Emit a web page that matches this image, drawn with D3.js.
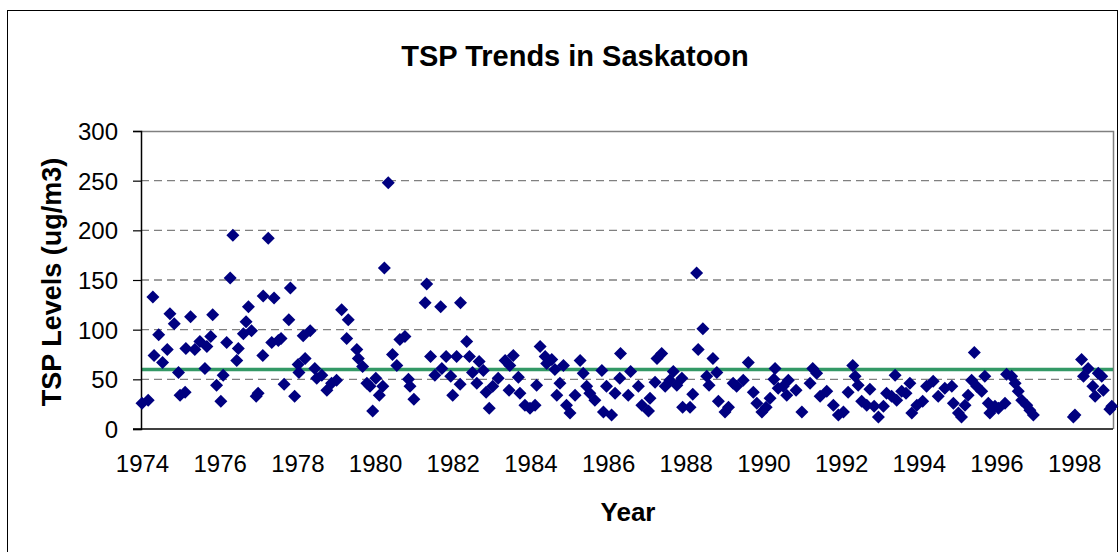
<!DOCTYPE html>
<html><head><meta charset="utf-8">
<script src="https://cdn.jsdelivr.net/npm/d3@7"></script>
<style>body{margin:0;background:#fff}svg{display:block}text{font-family:"Liberation Sans",Arial,sans-serif}</style>
</head><body>
<svg id="chart" width="1119" height="552"></svg>
<script>
const title = "TSP Trends in Saskatoon";
const xTitle = "Year";
const yTitle = "TSP Levels (ug/m3)";
const xTicks = [1974,1976,1978,1980,1982,1984,1986,1988,1990,1992,1994,1996,1998];
const yTicks = [0,50,100,150,200,250,300];
const standard = 60;
// sample dates (decimal years) and TSP values (ug/m3)
const dates = [
1974.00,1974.16,1974.28,1974.31,1974.43,1974.53,1974.65,1974.72,1974.83,1974.94,1974.98,
1975.11,1975.13,1975.25,1975.36,1975.49,1975.62,1975.67,1975.77,1975.82,1975.92,
1976.03,1976.09,1976.18,1976.27,1976.34,1976.44,1976.48,1976.61,1976.68,1976.74,1976.82,1976.94,1976.99,
1977.11,1977.12,1977.25,1977.34,1977.40,1977.51,1977.58,1977.66,1977.78,1977.82,1977.93,
1978.02,1978.04,1978.15,1978.20,1978.33,1978.45,1978.50,1978.63,1978.76,1978.88,
1979.01,1979.14,1979.27,1979.31,1979.53,1979.57,1979.68,1979.79,1979.87,1979.94,
1980.02,1980.11,1980.20,1980.24,1980.34,1980.45,1980.56,1980.64,1980.77,1980.86,1980.90,
1981.00,1981.29,1981.33,1981.43,1981.54,1981.69,1981.72,1981.83,1981.95,
1982.00,1982.10,1982.19,1982.20,1982.36,1982.43,1982.51,1982.62,1982.68,1982.79,1982.86,1982.94,
1983.03,1983.17,1983.35,1983.45,1983.47,1983.56,1983.69,1983.73,1983.86,1983.99,
1984.12,1984.16,1984.25,1984.38,1984.42,1984.55,1984.63,1984.68,1984.76,1984.85,1984.93,
1985.02,1985.15,1985.28,1985.36,1985.45,1985.53,1985.66,1985.84,1985.88,1985.96,
1986.09,1986.18,1986.30,1986.32,1986.52,1986.58,1986.78,1986.87,
1987.04,1987.08,1987.21,1987.26,1987.38,1987.47,1987.59,1987.68,1987.77,1987.90,1987.92,
1988.11,1988.18,1988.28,1988.32,1988.44,1988.54,1988.60,1988.70,1988.80,1988.84,
1989.01,1989.10,1989.22,1989.31,1989.48,1989.61,1989.74,1989.83,1989.96,
1990.07,1990.17,1990.27,1990.30,1990.38,1990.51,1990.60,1990.64,1990.84,1990.99,
1991.20,1991.27,1991.37,1991.46,1991.63,1991.80,1991.93,
1992.06,1992.18,1992.30,1992.36,1992.44,1992.53,1992.66,1992.74,1992.85,1992.96,
1993.09,1993.17,1993.30,1993.39,1993.43,1993.56,1993.67,1993.77,1993.82,1993.95,
1994.10,1994.20,1994.37,1994.50,1994.67,1994.85,1994.89,
1995.02,1995.10,1995.19,1995.27,1995.36,1995.43,1995.49,1995.62,1995.70,1995.79,1995.83,1995.96,
1996.05,1996.22,1996.26,1996.39,1996.48,1996.56,1996.65,1996.78,1996.86,1996.95,
1997.98,1998.02,1998.19,1998.24,1998.36,1998.48,1998.54,1998.62,1998.71,1998.75,1998.92,1998.97
];
const tsp = [
26,29,133,74,95,67,80,116,106,57,34,
37,81,113,80,88,61,83,93,115,44,
28,54,87,152,195,69,81,96,108,123,99,33,36,
74,134,192,87,132,89,91,45,110,142,33,
65,57,94,71,99,61,51,54,39,46,
49,120,91,110,80,71,63,46,43,18,
51,34,43,162,248,75,64,90,93,50,43,
30,127,146,73,54,123,61,73,53,
34,73,45,127,88,73,57,46,68,59,37,21,
43,51,69,39,64,74,52,36,24,21,
24,44,83,73,66,70,60,34,46,64,24,
16,34,69,56,43,36,29,59,17,43,
14,36,51,76,34,58,43,24,
18,31,47,71,76,43,49,58,44,51,22,
22,35,157,80,101,53,44,71,57,28,
17,22,46,43,49,67,37,26,17,
22,31,50,61,41,43,34,49,39,17,
46,61,56,33,38,24,14,
17,37,64,53,44,28,24,40,23,12,
23,36,33,54,29,38,36,46,16,24,
28,43,48,33,41,43,26,
16,12,24,34,49,77,43,38,53,26,16,23,
21,26,55,53,46,38,29,24,19,14,
12,14,70,53,61,43,33,56,53,39,20,23
];

const svg = d3.select("#chart");
const W = 1119, H = 552;
const L = 141, R = 1113, T = 131, B = 429;

// outer frame
svg.append("rect").attr("x",7.5).attr("y",10.5).attr("width",1110).attr("height",560)
  .attr("fill","none").attr("stroke","#000").attr("stroke-width",1);

const x = d3.scaleLinear().domain([1974,1999]).range([142,1113]);
const y = d3.scaleLinear().domain([0,300]).range([B,T]);

// gridlines
svg.append("g").selectAll("line").data(yTicks.filter(v=>v>0 && v<300)).join("line")
  .attr("x1",L).attr("x2",R).attr("y1",d=>y(d)).attr("y2",d=>y(d))
  .attr("stroke","#808080").attr("stroke-width",1.3).attr("stroke-dasharray","8,5");
// plot border top/right
svg.append("path").attr("d",`M${L},${T+0.5}H${R+0.5}V${B}`).attr("fill","none")
  .attr("stroke","#808080").attr("stroke-width",1.5);

// standard line
svg.append("line").attr("x1",L).attr("x2",R).attr("y1",y(standard)).attr("y2",y(standard))
  .attr("stroke","#339966").attr("stroke-width",3.5);

// y axis
const yAxis = d3.axisLeft(y).tickValues(yTicks).tickSize(8).tickPadding(15).tickFormat(d3.format("d"));
const gy = svg.append("g").attr("transform",`translate(${L},0)`).call(yAxis);
gy.select(".domain").attr("stroke","#000").attr("stroke-width",1.5);
gy.selectAll(".tick line").attr("stroke","#000").attr("stroke-width",1.2);
gy.selectAll(".tick text").attr("font-size",24).attr("fill","#000")
  .attr("font-family","'Liberation Sans',Arial,sans-serif").attr("dy","0.35em");

// x axis
const xAxis = d3.axisBottom(x).tickValues(xTicks).tickSize(0).tickPadding(26).tickFormat(d3.format("d"));
const gx = svg.append("g").attr("transform",`translate(0,${B})`).call(xAxis);
gx.select(".domain").remove();
gx.selectAll(".tick text").attr("font-size",24).attr("fill","#000")
  .attr("font-family","'Liberation Sans',Arial,sans-serif");
svg.append("line").attr("x1",L-8).attr("x2",R).attr("y1",B).attr("y2",B)
  .attr("stroke","#000").attr("stroke-width",1.5);

// points
const pts = dates.map((d,i)=>({d, v: tsp[i]}));
const s = 6.5;
svg.append("g").selectAll("path").data(pts).join("path")
  .attr("transform",p=>`translate(${x(p.d)},${y(p.v)})`)
  .attr("d",`M0,${-s}L${s},0L0,${s}L${-s},0Z`)
  .attr("fill","#000080");

// titles
svg.append("text").attr("x",575).attr("y",66).attr("text-anchor","middle")
  .attr("font-size",29).attr("font-weight","bold").text(title);
svg.append("text").attr("x",628).attr("y",521).attr("text-anchor","middle")
  .attr("font-size",26).attr("font-weight","bold").text(xTitle);
svg.append("text").attr("transform","translate(61,282) rotate(-90)").attr("text-anchor","middle")
  .attr("font-size",27).attr("font-weight","bold").text(yTitle);
</script>
</body></html>
